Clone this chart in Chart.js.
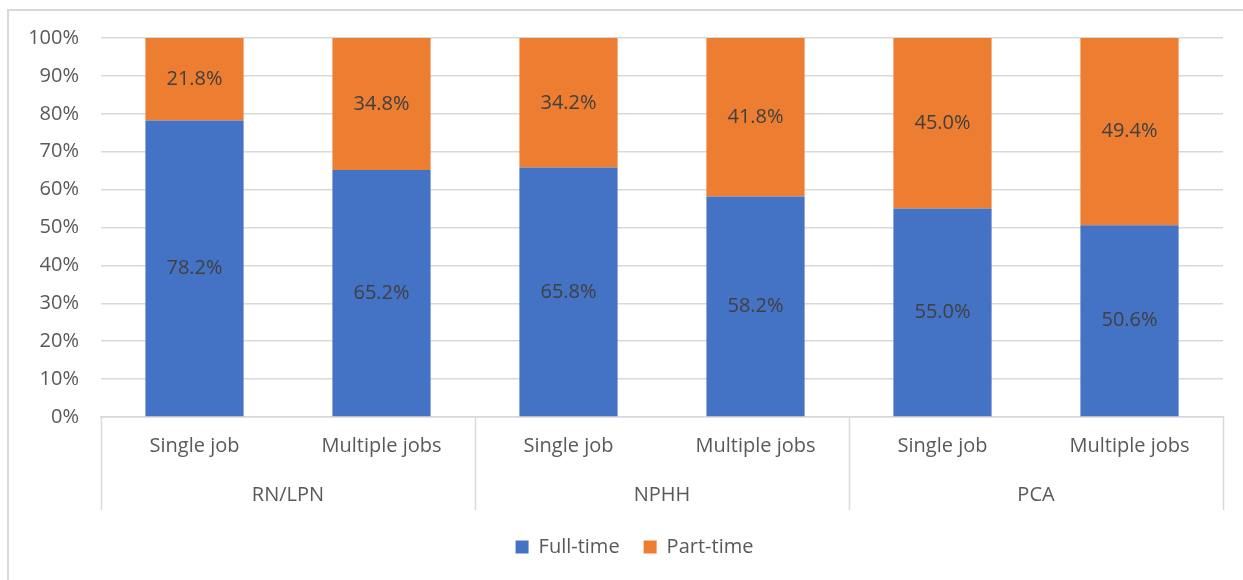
<!DOCTYPE html>
<html>
<head>
<meta charset="utf-8">
<script src="https://cdn.jsdelivr.net/npm/chart.js@4.4.1/dist/chart.umd.min.js"></script>
<style>
	html, body { margin: 0; padding: 0; background: #fff; overflow: hidden; }
	#frame {
		position: absolute; left: 7px; top: 9px;
		width: 1300px; height: 700px;
		border: 2px solid #d9d9d9;
	}
	#wrap { position: absolute; left: 0; top: 0; width: 1243px; height: 580px; }
</style>
</head>
<body>
<div id="frame"></div>
<div id="wrap"><canvas id="jobsChart" width="1243" height="580"></canvas></div>
<script>
const GROUPS = ['RN/LPN', 'NPHH', 'PCA'];
const JOB_TYPES = ['Single job', 'Multiple jobs', 'Single job', 'Multiple jobs', 'Single job', 'Multiple jobs'];
const FULL_TIME = [78.2, 65.2, 65.8, 58.2, 55.0, 50.6];
const PART_TIME = [21.8, 34.8, 34.2, 41.8, 45.0, 49.4];

const FONT = "'Open Sans', sans-serif";
const FONT_SIZE = 20;
const GRID = '#d9d9d9';

// value labels in the middle of each segment
const segmentLabels = {
	id: 'segmentLabels',
	afterDatasetsDraw(chart) {
		const { ctx } = chart;
		ctx.save();
		ctx.font = `${FONT_SIZE}px ${FONT}`;
		ctx.fillStyle = '#404040';
		ctx.textAlign = 'center';
		ctx.textBaseline = 'middle';
		chart.data.datasets.forEach((ds, i) => {
			chart.getDatasetMeta(i).data.forEach((bar, j) => {
				const p = bar.getCenterPoint();
				ctx.fillText(ds.data[j].toFixed(1) + '%', p.x, p.y);
			});
		});
		ctx.restore();
	},
};

// group dividers under the category axis
const groupDividers = {
	id: 'groupDividers',
	afterDraw(chart) {
		const { ctx, chartArea } = chart;
		const step = (chartArea.right - chartArea.left) / JOB_TYPES.length;
		const perGroup = JOB_TYPES.length / GROUPS.length;
		const bottom = chart.scales.x2.top + 33;
		ctx.save();
		ctx.strokeStyle = GRID;
		ctx.lineWidth = 1.5;
		for (let g = 0; g <= GROUPS.length; g++) {
			const px = Math.round(chartArea.left + g * perGroup * step) + 0.5;
			ctx.beginPath();
			ctx.moveTo(px, chartArea.bottom);
			ctx.lineTo(px, bottom);
			ctx.stroke();
		}
		ctx.restore();
	},
};

// centre the legend under the plot rather than the whole canvas
const legendShift = {
	id: 'legendShift',
	afterLayout(chart) {
		if (chart.legend) chart.legend.left += 46;
	},
};

new Chart(document.getElementById('jobsChart').getContext('2d'), {
	type: 'bar',
	data: {
		labels: JOB_TYPES,
		datasets: [
			{ label: 'Full-time', data: FULL_TIME, backgroundColor: '#4472c4' },
			{ label: 'Part-time', data: PART_TIME, backgroundColor: '#ed7d31' },
		],
	},
	options: {
		responsive: false,
		animation: false,
		layout: { padding: { top: 38, right: 20, left: 0, bottom: 13 } },
		datasets: { bar: { categoryPercentage: 1, barPercentage: 0.525 } },
		scales: {
			x: {
				stacked: true,
				grid: { display: false, drawTicks: false },
				border: { color: GRID, width: 1.5 },
				ticks: { color: '#595959', font: { family: FONT, size: FONT_SIZE }, padding: 17 },
				afterFit(scale) { scale.height = 60; },
			},
			x2: {
				type: 'category',
				axis: 'x',
				position: 'bottom',
				labels: GROUPS,
				offset: true,
				grid: { display: false, drawTicks: false },
				border: { display: false },
				ticks: { color: '#595959', font: { family: FONT, size: FONT_SIZE }, padding: 6 },
				afterFit(scale) { scale.height = 36; },
			},
			y: {
				stacked: true,
				min: 0,
				max: 100,
				ticks: {
					stepSize: 10,
					color: '#595959',
					font: { family: FONT, size: FONT_SIZE },
					padding: 22,
					callback: (v) => v + '%',
				},
				grid: { color: GRID, lineWidth: 1.5, drawTicks: false },
				border: { display: false },
				afterFit(scale) { scale.width = 101; },
			},
		},
		plugins: {
			legend: {
				position: 'bottom',
				labels: {
					boxWidth: 13,
					boxHeight: 13,
					padding: 24,
					color: '#595959',
					font: { family: FONT, size: FONT_SIZE },
				},
			},
			tooltip: { enabled: false },
		},
	},
	plugins: [segmentLabels, groupDividers, legendShift],
});
</script>
</body>
</html>
